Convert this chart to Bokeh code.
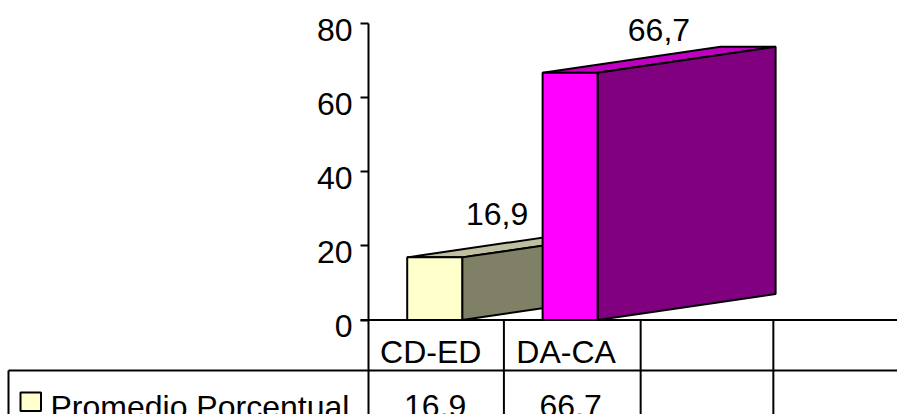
from bokeh.plotting import figure
from bokeh.models import FixedTicker, Range1d
from bokeh.core.properties import value
from bokeh.embed import file_html
from bokeh.resources import INLINE

# Chart data
categories = ["CD-ED", "DA-CA"]
promedio = [16.9, 66.7]
table_values = ["16.9", "66.7"]
point_labels = ["16,9", "66,7"]
y_ticks = [0, 20, 40, 60, 80]
series_name = "Promedio Porcentual"

# Canvas and scale set-up: one category is 135.4 px wide, one percent is 3.706 px tall
W, H = 897, 414
PX_X, PX_Y = 135.4, 3.706
X0, Y0 = 368, 319.5
FONT = value("Liberation Sans")
FS = "32px"
BLACK = "#000000"
LW = 2
# Rendered text sits this far under its nominal baseline, so offsets compensate for it
TEXT_SHIFT = 11


def xpx(px):
    return (px - X0) / PX_X


def ypx(px):
    return (Y0 - px) / PX_Y


p = figure(width=W, height=H, output_backend="svg", toolbar_location=None,
           x_range=Range1d(xpx(0), xpx(W)), y_range=Range1d(ypx(H), ypx(0)),
           min_border=0, min_border_left=0, min_border_right=0,
           min_border_top=0, min_border_bottom=0)
p.outline_line_color = None
p.grid.visible = False
p.xaxis.visible = False
p.background_fill_color = "#ffffff"
p.border_fill_color = "#ffffff"

# Value axis sits on the left edge of the category table
axis = p.yaxis[0]
axis.fixed_location = 0
axis.bounds = (0, 80)
axis.ticker = FixedTicker(ticks=y_ticks)
axis.axis_line_color = BLACK
axis.axis_line_width = LW
axis.major_tick_line_color = BLACK
axis.major_tick_line_width = LW
axis.major_tick_in = 0
axis.major_tick_out = 8
axis.minor_tick_line_color = None
axis.major_label_text_color = None
axis.major_label_text_font_size = "1px"

p.text(x=[xpx(352)] * len(y_ticks), y=y_ticks, text=[str(t) for t in y_ticks],
       text_font=FONT, text_font_size=FS, text_color=BLACK,
       text_align="right", text_baseline="alphabetic", y_offset=17 - TEXT_SHIFT)

# Pseudo-3D columns: front face, side and top share a fixed depth
BAR_W = 55 / PX_X
DEPTH_X = 178 / PX_X
DEPTH_Y = 26 / PX_Y
front_colors = ["#FFFFCC", "#FF00FF"]
side_colors = ["#808066", "#800080"]
top_colors = ["#C0C0A0", "#C000C0"]

for i, v in enumerate(promedio):
    left = i + 0.5 - BAR_W / 2 - 0.011
    right = left + BAR_W
    p.patch([left, left + DEPTH_X, right + DEPTH_X, right],
            [v, v + DEPTH_Y, v + DEPTH_Y, v],
            fill_color=top_colors[i], line_color=BLACK, line_width=LW)
    p.patch([right, right + DEPTH_X, right + DEPTH_X, right],
            [0, DEPTH_Y, v + DEPTH_Y, v],
            fill_color=side_colors[i], line_color=BLACK, line_width=LW)
    p.quad(left=[left], right=[right], bottom=[0], top=[v],
           fill_color=front_colors[i], line_color=BLACK, line_width=LW)

# Value labels above the columns
label_dx = [0.45, 0.645]
p.text(x=[i + 0.5 + label_dx[i] for i in range(len(promedio))],
       y=promedio, text=point_labels,
       text_font=FONT, text_font_size=FS, text_color=BLACK,
       text_align="center", text_baseline="alphabetic", y_offset=-32 - TEXT_SHIFT)

# Data table under the plot
row_line = ypx(370)
bottom = ypx(H + 5)
col_edges = [0, 1, 2.01, 2.99]
p.segment(x0=col_edges, y0=[0] * 4, x1=col_edges, y1=[bottom] * 4,
          line_color=BLACK, line_width=LW)
p.segment(x0=[xpx(360), xpx(8)], y0=[0, row_line], x1=[xpx(W), xpx(W)], y1=[0, row_line],
          line_color=BLACK, line_width=LW)
p.segment(x0=[xpx(8)], y0=[row_line], x1=[xpx(8)], y1=[bottom],
          line_color=BLACK, line_width=LW)

centers = [i + 0.5 for i in range(len(categories))]
p.text(x=centers, y=[ypx(362)] * 2, text=categories, text_font=FONT, x_offset=-5.5,
       y_offset=-TEXT_SHIFT,
       text_font_size=FS, text_color=BLACK, text_align="center", text_baseline="alphabetic")
p.text(x=centers, y=[ypx(416)] * 2, text=table_values, text_font=FONT, x_offset=-1,
       y_offset=-TEXT_SHIFT,
       text_font_size=FS, text_color=BLACK, text_align="center", text_baseline="alphabetic")

# Legend key and series name in the first table row
p.quad(left=[xpx(20)], right=[xpx(40.5)], bottom=[ypx(410.5)], top=[ypx(392)],
       fill_color=front_colors[0], line_color=BLACK, line_width=LW)
p.text(x=[xpx(50)], y=[ypx(417)], text=[series_name], text_font=FONT, y_offset=-TEXT_SHIFT,
       text_font_size=FS, text_color=BLACK, text_align="left", text_baseline="alphabetic")

open("out.html", "w").write(file_html(p, INLINE))
